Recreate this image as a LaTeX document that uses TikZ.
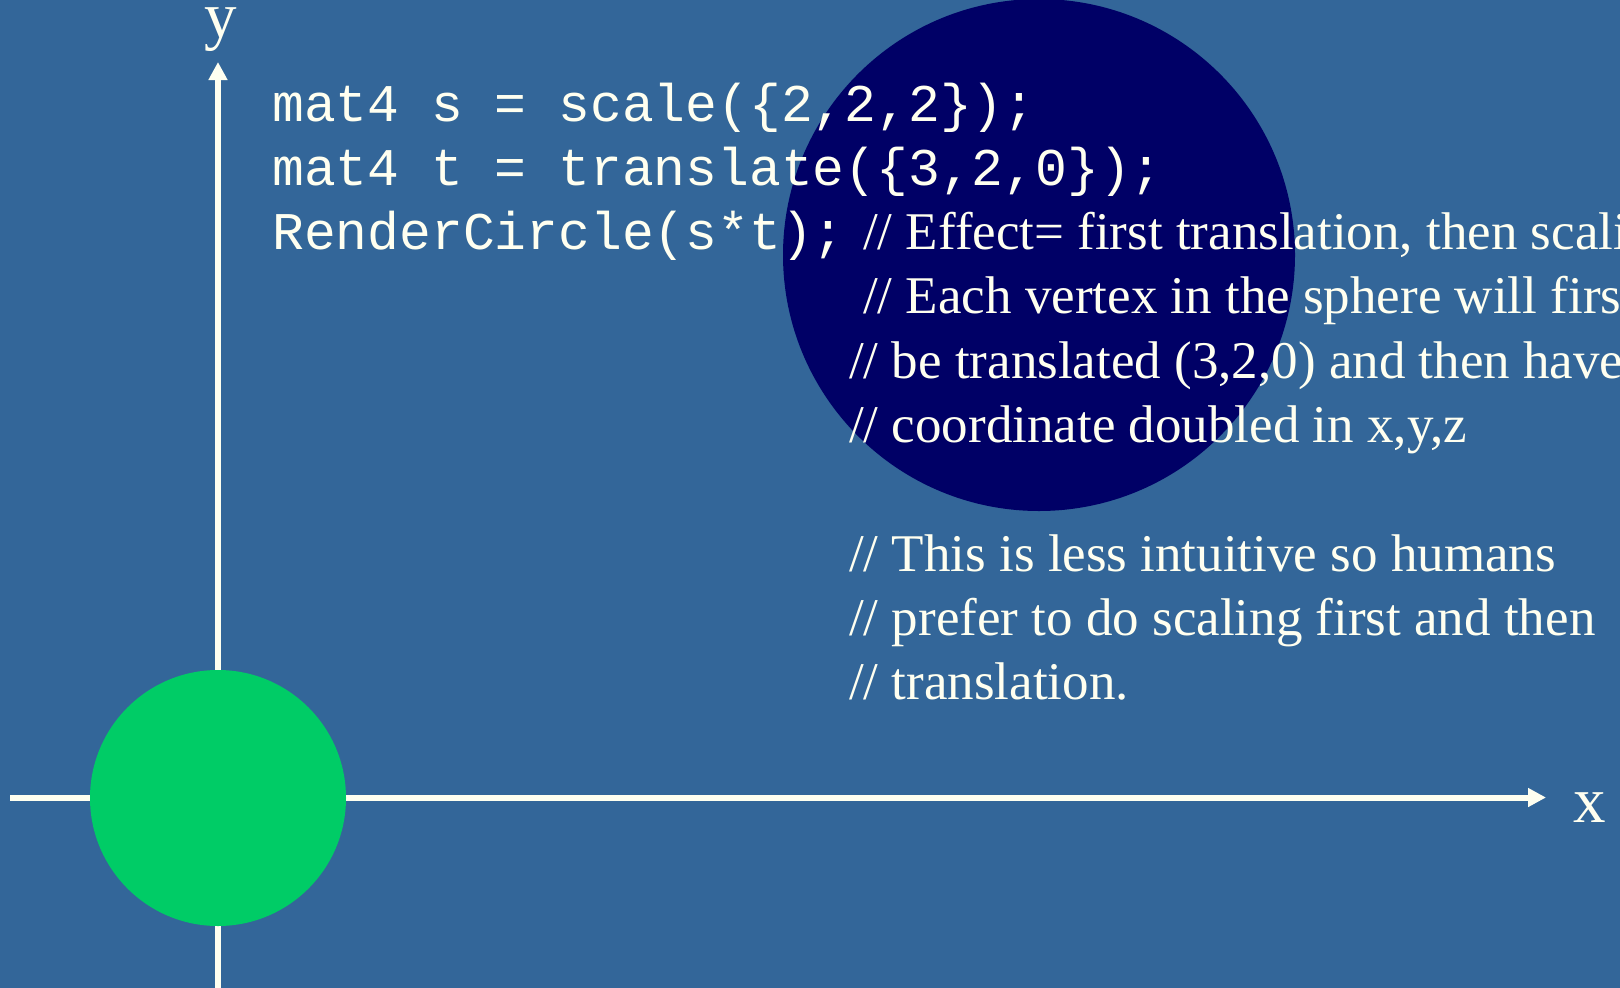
\documentclass[tikz,border=0pt]{standalone}
\usepackage{fontspec}
\setmainfont{Liberation Serif}
\newfontfamily\codefont{Liberation Mono}
\usetikzlibrary{arrows.meta}
\definecolor{bgblue}{HTML}{336699}
\definecolor{navy}{HTML}{000066}
\definecolor{leaf}{HTML}{00CC66}
\definecolor{ink}{HTML}{FFFFF0}
\begin{document}
\begin{tikzpicture}[x=1pt,y=-1pt,
  codeline/.style={anchor=base west, inner sep=0pt, text=ink, font=\codefont\fontsize{53}{64}\selectfont},
  commentline/.style={anchor=base west, inner sep=0pt, text=ink, font=\fontsize{53}{64}\selectfont},
  axislabel/.style={anchor=base, inner sep=0pt, text=ink, font=\fontsize{65}{78}\selectfont},
  axisline/.style={draw=ink, line width=6pt, -{Triangle[length=18pt,width=18pt]}}]
\useasboundingbox (0,0) rectangle (1620,988);
\clip (0,0) rectangle (1620,988);
\fill[bgblue] (0,0) rectangle (1620,988);
\fill[navy] (1039,255) circle[radius=256];
\coordinate (xstart) at (10,797.5);
\coordinate (xend) at (1546,797.5);
\coordinate (ystart) at (218,995);
\coordinate (yend) at (218,62);
\draw[axisline] (xstart) -- (xend);
\draw[axisline] (ystart) -- (yend);
\fill[leaf] (218,798) circle[radius=128];
\node[axislabel] (ylab) at (221,37) {y};
\node[axislabel] (xlab) at (1590,822) {x};
\node[codeline] (c1) at (272,121) {mat4 s = scale(\{2,2,2\});};
\node[codeline] (c2) at (272,185) {mat4 t = translate(\{3,2,0\});};
\node[codeline] (c3) at (272,249) {RenderCircle(s*t);};
\node[commentline] (m1) at (863,249) {// Effect= first translation, then scaling};
\node[commentline] (m2) at (863,313) {// Each vertex in the sphere will first};
\node[commentline] (m3) at (849,378) {// be translated (3,2,0) and then have};
\node[commentline] (m4) at (849,442) {// coordinate doubled in x,y,z};
\node[commentline] (m5) at (849,571) {// This is less intuitive so humans};
\node[commentline] (m6) at (849,635) {// prefer to do scaling first and then};
\node[commentline] (m7) at (849,699) {// translation.};
\end{tikzpicture}
\end{document}
